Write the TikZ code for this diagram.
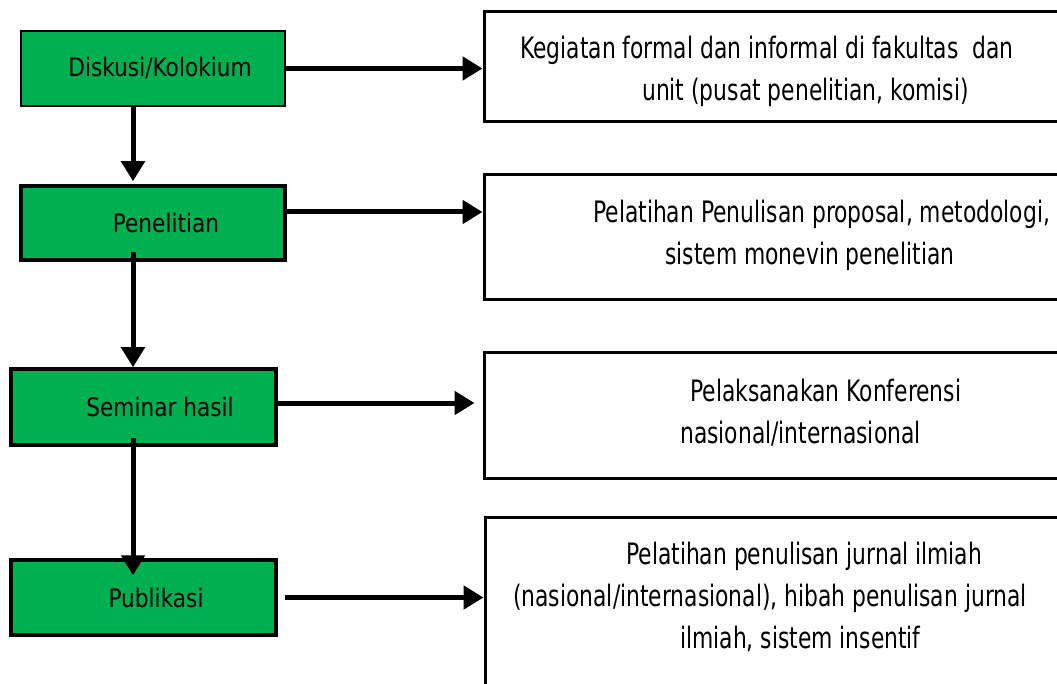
\documentclass[tikz,border=0pt]{standalone}
\usepackage{fontspec}
\setmainfont{DejaVu Sans}[FakeStretch=0.85]
\newfontfamily\sempit{DejaVu Sans}[FakeStretch=0.74]
\usetikzlibrary{arrows.meta}

\definecolor{hijau}{RGB}{0,176,80}

\tikzset{
  tahap/.style={draw, fill=hijau, line width=3.5pt, minimum width=264pt, minimum height=75pt, inner sep=0pt},
  ket/.style={draw, line width=3pt, minimum width=600pt, inner sep=0pt},
  teks/.style={align=left, inner sep=0pt, anchor=base west, font=\sempit\fontsize{29.5pt}{42pt}\selectfont},
  panah/.style={line width=5pt, -{Triangle[length=20pt,width=23pt]}}
}

\begin{document}
\begin{tikzpicture}[x=1pt, y=-1pt, font=\fontsize{25.5pt}{30pt}\selectfont]
  \useasboundingbox (0,0) rectangle (1057,684);
  \clip (0,0) rectangle (1057,684);

  \node[tahap, line width=1.5pt] (disk) at (153,68.5) {\hspace*{14pt}Diskusi/Kolokium};
  \node[tahap, minimum height=74pt] (pen) at (153,223) {\hspace*{26pt}Penelitian};
  \node[tahap, minimum width=265pt, minimum height=76pt] (sem) at (143.5,407) {\hspace*{33pt}Seminar hasil};
  \node[tahap, minimum width=265pt] (pub) at (143.5,597.5) {\hspace*{25pt}Publikasi};

  \node[ket, minimum height=110pt] (keg) at (784,67) {};
  \node[ket, minimum height=125pt] (pel) at (784,237.5) {};
  \node[ket, minimum height=125pt] (konf) at (784,415.5) {};
  \node[ket, minimum height=200pt] (jur) at (785,617) {};

  \node[teks] (tkeg) at (520,101) {Kegiatan formal dan informal di fakultas \ dan\\
    \hspace*{122pt}unit (pusat penelitian, komisi)};
  \node[teks] (tpel) at (593,265) {Pelatihan Penulisan proposal, metodologi,\\
    \hspace*{72pt}sistem monevin penelitian};
  \node[teks] (tkonf) at (680,443) {\hspace*{10pt}Pelaksanakan Konferensi\\
    nasional/internasional};
  \node[teks] (tjur) at (513,648) {\hspace*{113pt}Pelatihan penulisan jurnal ilmiah\\
    (nasional/internasional), hibah penulisan jurnal\\
    \hspace*{167pt}ilmiah, sistem insentif};

  \draw[panah] ([xshift=-20pt]disk.south) -- ([xshift=-20pt,yshift=3pt]pen.north);
  \draw[panah] ([xshift=-20pt,yshift=10pt]pen.south) -- ([xshift=-10.5pt]sem.north);
  \draw[panah] ([xshift=-10.5pt,yshift=9pt]sem.south) -- ([xshift=-10.5pt,yshift=-17pt]pub.north);

  \draw[panah] (disk.east) -- (disk.east -| keg.west);
  \draw[panah] ([yshift=11pt]pen.east) -- ([yshift=11pt]pen.east -| pel.west);
  \draw[panah, shorten >=8pt] ([yshift=4pt]sem.east) -- ([yshift=4pt]sem.east -| konf.west);
  \draw[panah, shorten <=7pt] (pub.east) -- (pub.east -| jur.west);
\end{tikzpicture}
\end{document}
